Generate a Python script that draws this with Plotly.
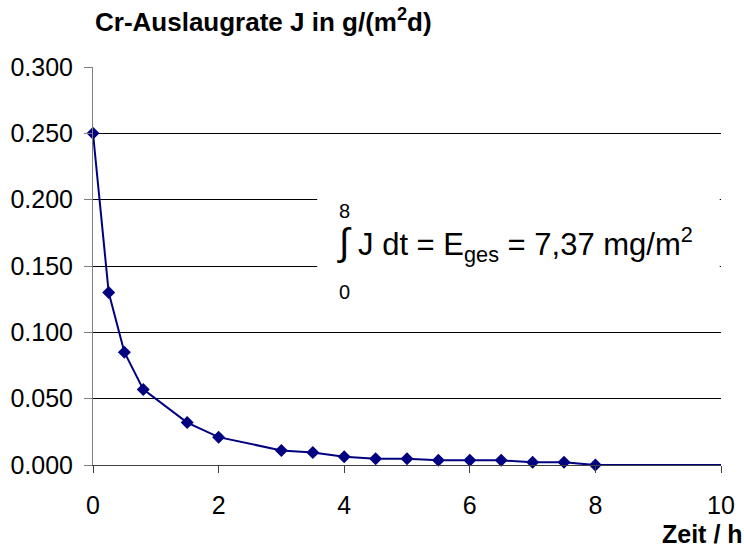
import plotly.graph_objects as go

# Data
zeit_h = [0, 0.25, 0.5, 0.8, 1.5, 2, 3, 3.5, 4, 4.5, 5, 5.5, 6, 6.5, 7, 7.5, 8]
rate_J = [0.250, 0.130, 0.085, 0.057, 0.032, 0.021, 0.011, 0.0095, 0.0063,
          0.0047, 0.0047, 0.0035, 0.0035, 0.0035, 0.002, 0.002, 0.0]
tail_x = [8, 10.2]
tail_y = [0.0, 0.0]
y_ticks = [0.0, 0.05, 0.10, 0.15, 0.20, 0.25, 0.30]
x_ticks = [0, 2, 4, 6, 8, 10]

FONT = "Liberation Sans, Arial, sans-serif"
NAVY = "#000080"

fig = go.Figure()
fig.add_trace(go.Scatter(x=tail_x, y=tail_y, mode="lines",
                         line=dict(color=NAVY, width=2), showlegend=False,
                         hoverinfo="skip"))
fig.add_trace(go.Scatter(x=zeit_h, y=rate_J, mode="lines+markers",
                         line=dict(color=NAVY, width=2),
                         marker=dict(symbol="diamond", size=10, color=NAVY),
                         showlegend=False, cliponaxis=False))

fig.update_layout(
    width=744, height=548,
    margin=dict(l=93, r=23, t=67, b=83, autoexpand=False),
    paper_bgcolor="white", plot_bgcolor="white",
    font=dict(family=FONT, size=25, color="black"),
    xaxis=dict(range=[0, 10], tickvals=x_ticks, ticktext=[str(v) for v in x_ticks],
               showgrid=False, zeroline=False, showline=True, linecolor="#404040",
               linewidth=1, ticks="outside", ticklen=7, tickcolor="#404040",
               ticklabelstandoff=11, automargin=False),
    yaxis=dict(range=[0, 0.3], tickvals=y_ticks, tickformat=".3f",
               showgrid=True, gridcolor="black", gridwidth=1, zeroline=False,
               showline=True, linecolor="#808080", linewidth=1,
               ticks="outside", ticklen=8, tickcolor="#808080",
               ticklabelstandoff=6, automargin=False),
)

# white box behind the integral annotation
fig.add_shape(type="rect", xref="paper", yref="paper",
              x0=0.357, x1=0.998, y0=0.40, y1=0.71,
              fillcolor="white", line=dict(width=0), layer="above")

fig.add_annotation(text="<b>Cr-Auslaugrate J in g/(m<sup>2</sup>d)</b>",
                   xref="paper", yref="paper", x=0, y=1, xanchor="left",
                   yanchor="bottom", yshift=28, showarrow=False,
                   font=dict(size=26, family=FONT))
fig.add_annotation(text="<b>Zeit / h</b>", xref="paper", yref="paper",
                   x=1, y=0, xanchor="right", yanchor="top", xshift=24, yshift=-53,
                   showarrow=False, font=dict(size=25, family=FONT))

fig.add_annotation(text="8", xref="paper", yref="paper", x=0.389, y=0.638,
                   xanchor="left", yanchor="middle", showarrow=False,
                   font=dict(size=20, family=FONT))
fig.add_annotation(text="0", xref="paper", yref="paper", x=0.389, y=0.435,
                   xanchor="left", yanchor="middle", showarrow=False,
                   font=dict(size=20, family=FONT))
fig.add_annotation(text="<span style=\"font-size:38px\">\u222b</span> J dt = E<sub>ges</sub> = 7,37 mg/m<sup>2</sup>",
                   xref="paper", yref="paper", x=0.386, y=0.555,
                   xanchor="left", yanchor="middle", showarrow=False,
                   font=dict(size=31, family=FONT))

fig.write_html("out.html")
